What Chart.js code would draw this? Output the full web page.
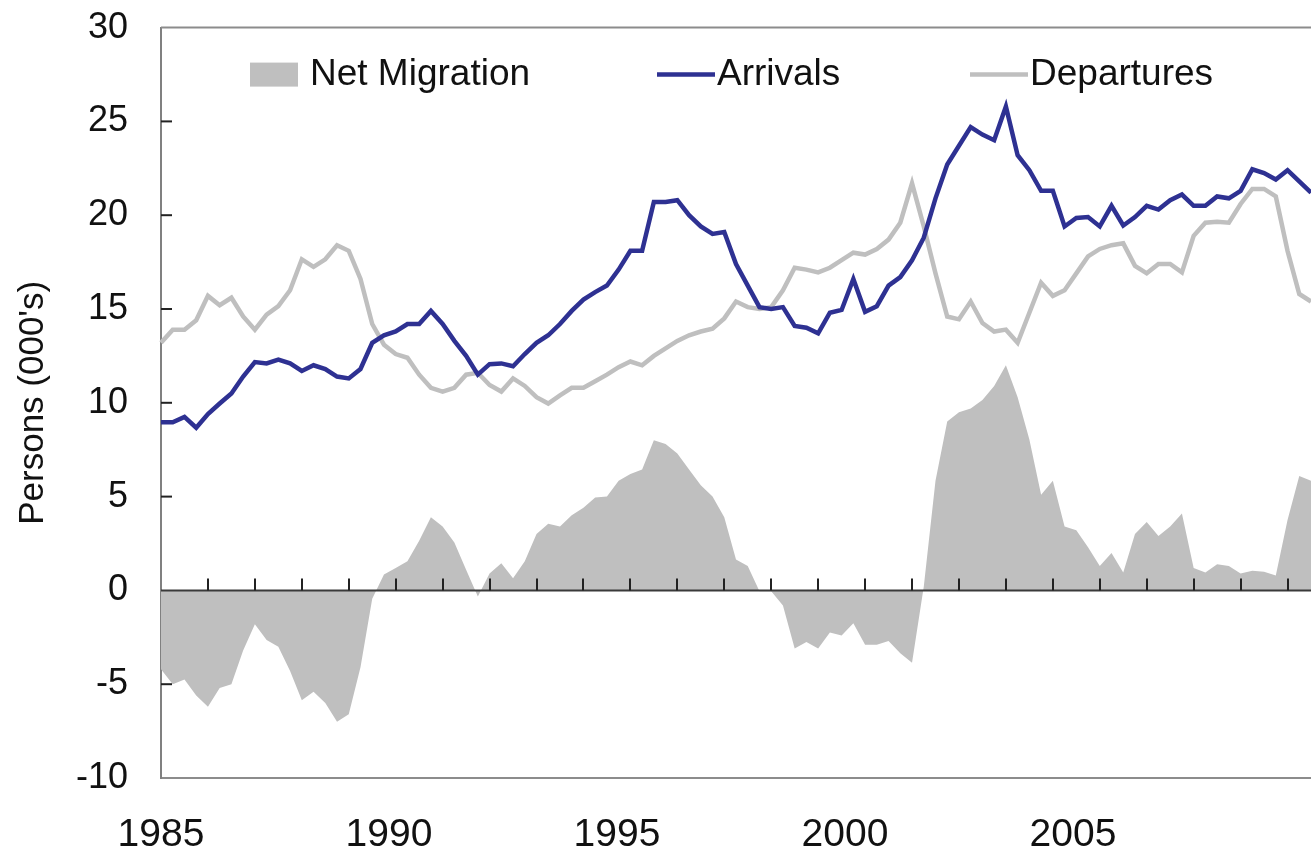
<!DOCTYPE html>
<html>
<head>
<meta charset="utf-8">
<script src="https://cdn.jsdelivr.net/npm/chart.js@4.4.1/dist/chart.umd.min.js"></script>
<style>
  html, body { margin: 0; padding: 0; background: #fff; }
  canvas { display: block; }
</style>
</head>
<body>
<canvas id="chart" width="1311" height="851"></canvas>
<script>
// quarterly series, 1985 Q1 onwards (persons, thousands)
const firstYear = 1985;
const quarters = [];
for (let i = 0; i < 99; i++) quarters.push((firstYear + Math.floor(i / 4)) + ' Q' + (i % 4 + 1));

const arrivals = [
  8.96, 8.96, 9.25, 8.67, 9.4, 9.96, 10.5, 11.4, 12.17, 12.1,
  12.3, 12.1, 11.7, 12.0, 11.8, 11.4, 11.3, 11.8, 13.2, 13.6,
  13.8, 14.2, 14.2, 14.9, 14.2, 13.3, 12.5, 11.5, 12.06, 12.1,
  11.95, 12.6, 13.2, 13.6, 14.2, 14.9, 15.5, 15.9, 16.25, 17.1,
  18.1, 18.1, 20.7, 20.7, 20.8, 20.0, 19.4, 19.0, 19.1, 17.4,
  16.25, 15.1, 15.0, 15.1, 14.1, 14.0, 13.7, 14.8, 14.95, 16.6,
  14.85, 15.15, 16.25, 16.7, 17.6, 18.8, 20.9, 22.7, 23.7, 24.7,
  24.3, 24.0, 25.8, 23.2, 22.4, 21.3, 21.3, 19.4, 19.85, 19.9,
  19.4, 20.5, 19.45, 19.9, 20.5, 20.3, 20.8, 21.1, 20.5, 20.5,
  21.0, 20.9, 21.3, 22.45, 22.25, 21.9, 22.4, 21.8, 21.2
];

const departures = [
  13.2, 13.9, 13.9, 14.4, 15.7, 15.2, 15.6, 14.6, 13.9, 14.7,
  15.15, 16.0, 17.65, 17.25, 17.65, 18.4, 18.1, 16.6, 14.2, 13.1,
  12.6, 12.4, 11.5, 10.8, 10.6, 10.8, 11.5, 11.6, 10.95, 10.6,
  11.3, 10.9, 10.3, 9.96, 10.4, 10.8, 10.8, 11.15, 11.5, 11.9,
  12.2, 12.0, 12.5, 12.9, 13.3, 13.6, 13.8, 13.95, 14.5, 15.4,
  15.1, 15.0, 15.1, 16.0, 17.2, 17.1, 16.95, 17.2, 17.6, 18.0,
  17.9, 18.2, 18.7, 19.6, 21.7, 19.4, 16.9, 14.6, 14.45, 15.4,
  14.25, 13.8, 13.9, 13.2, 14.8, 16.4, 15.7, 16.0, 16.9, 17.8,
  18.2, 18.4, 18.5, 17.3, 16.9, 17.4, 17.4, 16.95, 18.9, 19.6,
  19.65, 19.6, 20.6, 21.4, 21.4, 21.0, 18.1, 15.8, 15.4
];

const netMigration = [
  -4.2, -5.0, -4.75, -5.6, -6.2, -5.2, -5.0, -3.2, -1.8, -2.65,
  -3.0, -4.3, -5.85, -5.4, -6.0, -7.0, -6.6, -4.1, -0.45, 0.85,
  1.2, 1.55, 2.65, 3.9, 3.4, 2.55, 1.1, -0.33, 0.9, 1.45,
  0.65, 1.55, 3.0, 3.55, 3.4, 4.0, 4.4, 4.95, 5.0, 5.85,
  6.2, 6.45, 8.0, 7.8, 7.3, 6.45, 5.6, 5.0, 3.9, 1.65,
  1.3, -0.05, -0.05, -0.8, -3.1, -2.75, -3.1, -2.25, -2.4, -1.75,
  -2.9, -2.9, -2.7, -3.35, -3.85, 0.2, 5.85, 9.0, 9.5, 9.7,
  10.15, 10.9, 12.0, 10.3, 8.05, 5.1, 5.85, 3.4, 3.2, 2.3,
  1.3, 2.0, 0.95, 3.0, 3.65, 2.9, 3.4, 4.1, 1.2, 0.95,
  1.4, 1.3, 0.9, 1.05, 1.0, 0.8, 3.75, 6.1, 5.85
];

const yearLabels = [1985, 1990, 1995, 2000, 2005];

const navy = '#2e3192';
const lightGrey = '#bfbfbf';
const fontFamily = "'Liberation Sans', Arial, sans-serif";

Chart.defaults.font.family = fontFamily;
Chart.defaults.color = '#111';

// zero line, year ticks on it, inner y ticks and the top frame line
const decorations = {
  id: 'decorations',
  afterDatasetsDraw(chart) {
    const { ctx, chartArea: a, scales: { x, y } } = chart;
    const zero = y.getPixelForValue(0);
    ctx.save();
    ctx.lineWidth = 2;
    ctx.strokeStyle = '#8c8c8c';
    ctx.beginPath();
    ctx.moveTo(a.left, a.top);
    ctx.lineTo(a.right, a.top);
    ctx.stroke();

    ctx.strokeStyle = '#3a3a3a';
    ctx.beginPath();
    ctx.moveTo(a.left, zero);
    ctx.lineTo(a.right, zero);
    ctx.stroke();

    ctx.lineWidth = 2;
    ctx.strokeStyle = '#222';
    for (let i = 4; i < quarters.length; i += 4) {
      const px = Math.round(x.getPixelForValue(i));
      ctx.beginPath();
      ctx.moveTo(px, zero);
      ctx.lineTo(px, zero - 12);
      ctx.stroke();
    }

    y.ticks.forEach(t => {
      if (t.value <= y.min || t.value >= y.max || t.value === 0) return;
      const py = y.getPixelForValue(t.value);
      ctx.beginPath();
      ctx.moveTo(a.left, py);
      ctx.lineTo(a.left + 11, py);
      ctx.stroke();
    });
    ctx.restore();
  }
};

// legend sitting inside the plot
const insideLegend = {
  id: 'insideLegend',
  afterDraw(chart) {
    const { ctx, chartArea: a } = chart;
    const ly = a.top + 47;
    ctx.save();
    ctx.font = '37px ' + fontFamily;
    ctx.textBaseline = 'middle';

    ctx.fillStyle = lightGrey;
    ctx.fillRect(a.left + 89, ly - 12, 48, 24);
    ctx.fillStyle = '#111';
    ctx.fillText('Net Migration', a.left + 149, ly);

    ctx.lineWidth = 4.5;
    ctx.strokeStyle = navy;
    ctx.beginPath();
    ctx.moveTo(a.left + 496, ly);
    ctx.lineTo(a.left + 554, ly);
    ctx.stroke();
    ctx.fillText('Arrivals', a.left + 556, ly);

    ctx.strokeStyle = lightGrey;
    ctx.beginPath();
    ctx.moveTo(a.left + 809, ly);
    ctx.lineTo(a.left + 867, ly);
    ctx.stroke();
    ctx.fillText('Departures', a.left + 869, ly);
    ctx.restore();
  }
};

new Chart(document.getElementById('chart'), {
  type: 'line',
  data: {
    labels: quarters,
    datasets: [
      {
        label: 'Arrivals',
        data: arrivals,
        borderColor: navy,
        borderWidth: 4.5,
        pointRadius: 0,
        tension: 0,
        fill: false,
        order: 1
      },
      {
        label: 'Departures',
        data: departures,
        borderColor: lightGrey,
        borderWidth: 4.5,
        pointRadius: 0,
        tension: 0,
        fill: false,
        order: 2
      },
      {
        label: 'Net Migration',
        data: netMigration,
        borderWidth: 0,
        borderColor: 'rgba(0,0,0,0)',
        backgroundColor: lightGrey,
        pointRadius: 0,
        tension: 0,
        fill: 'origin',
        order: 3
      }
    ]
  },
  options: {
    responsive: false,
    animation: false,
    devicePixelRatio: 1,
    layout: { padding: 0 },
    plugins: {
      legend: { display: false },
      tooltip: { enabled: false }
    },
    scales: {
      x: {
        type: 'category',
        display: false,
        offset: false
      },
      years: {
        type: 'linear',
        axis: 'x',
        position: 'bottom',
        min: 1985,
        max: 2010.22,
        afterBuildTicks: s => { s.ticks = yearLabels.map(v => ({ value: v })); },
        afterFit: s => { s.height = 73; },
        grid: { display: false, drawTicks: false },
        border: { display: true, color: '#8c8c8c', width: 2 },
        ticks: {
          font: { size: 39 },
          color: '#111',
          padding: 34,
          maxRotation: 0,
          autoSkip: false,
          callback: v => String(v)
        }
      },
      y: {
        min: -10,
        max: 30,
        afterFit: s => { s.width = 161; },
        grid: {
          display: true,
          drawOnChartArea: false,
          drawTicks: true,
          tickLength: 27,
          color: 'rgba(0,0,0,0)'
        },
        border: { display: true, color: '#808080', width: 2 },
        ticks: {
          stepSize: 5,
          font: { size: 36 },
          color: '#111',
          padding: 6
        },
        title: {
          display: true,
          text: "Persons (000's)",
          font: { size: 35 },
          color: '#111',
          padding: { top: 12, bottom: 0 }
        }
      }
    }
  },
  plugins: [decorations, insideLegend]
});
</script>
</body>
</html>
